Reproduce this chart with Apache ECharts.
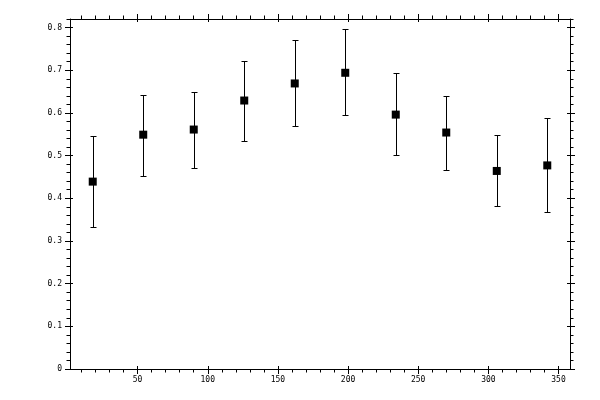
<!DOCTYPE html>
<html>
<head>
<meta charset="utf-8">
<script src="https://cdn.jsdelivr.net/npm/echarts@6/dist/echarts.min.js"></script>
<style>html,body{margin:0;padding:0;background:#fff}#c{width:600px;height:400px}</style>
</head>
<body>
<div id="c"></div>
<script>
// ---- data ----
var angles = [18, 54, 90, 126, 162, 198, 234, 270, 306, 342];
var means  = [0.439, 0.549, 0.561, 0.629, 0.669, 0.694, 0.596, 0.554, 0.464, 0.477];
var highs  = [0.547, 0.643, 0.650, 0.722, 0.770, 0.797, 0.693, 0.640, 0.549, 0.587];
var lows   = [0.333, 0.453, 0.472, 0.533, 0.570, 0.594, 0.502, 0.467, 0.382, 0.367];
var xTicks = [50, 100, 150, 200, 250, 300, 350];
var yTicks = [0, 0.1, 0.2, 0.3, 0.4, 0.5, 0.6, 0.7, 0.8];

var xMinor = []; for (var i = 10; i <= 350; i += 10) xMinor.push(i);
var yMinor = []; for (var j = 0; j <= 41; j++) yMinor.push(Math.round(j * 2) / 100);

var XMIN = 1.8, XMAX = 358.2, YMIN = 0, YMAX = 0.82;
var font = {fontFamily: 'DejaVu Sans Mono', fontSize: 8, color: '#000'};

function xAx(pos, ticks, len, inside, line, labels) {
  return {
    type: 'value', position: pos, min: XMIN, max: XMAX, scale: true,
    axisLine: {show: line, onZero: false, lineStyle: {color: '#000', width: 1}},
    axisTick: {show: true, inside: inside, length: len, customValues: ticks, lineStyle: {color: '#000', width: 1}},
    axisLabel: labels ? Object.assign({show: true, customValues: xTicks, margin: 7}, font) : {show: false},
    splitLine: {show: false}
  };
}
function yAx(pos, ticks, len, inside, line, labels) {
  return {
    type: 'value', position: pos, min: YMIN, max: YMAX,
    axisLine: {show: line, onZero: false, lineStyle: {color: '#000', width: 1}},
    axisTick: {show: true, inside: inside, length: len, customValues: ticks, lineStyle: {color: '#000', width: 1}},
    axisLabel: labels ? Object.assign({show: true, customValues: yTicks, margin: 8,
      formatter: function (v) { return String(Math.round(v * 10) / 10); }}, font) : {show: false},
    splitLine: {show: false}
  };
}

var errData = angles.map(function (a, k) { return [a, lows[k], highs[k]]; });
var ptData = angles.map(function (a, k) { return [a, means[k]]; });

var chart = echarts.init(document.getElementById('c'), null, {renderer: 'canvas'});
chart.setOption({
  animation: false,
  backgroundColor: '#fff',
  grid: {left: 70, right: 30, top: 19, bottom: 31, containLabel: false},
  xAxis: [
    xAx('bottom', xTicks, 5, false, true, true),
    xAx('bottom', xMinor, 3.5, false, false, false),
    xAx('bottom', xTicks, 3, true, false, false),
    xAx('top', xTicks, 5, false, true, false),
    xAx('top', xMinor, 3.5, false, false, false),
    xAx('top', xTicks, 3, true, false, false)
  ],
  yAxis: [
    yAx('left', yTicks, 5, false, true, true),
    yAx('left', yMinor, 3.5, false, false, false),
    yAx('left', yTicks, 3, true, false, false),
    yAx('right', yTicks, 5, false, true, false),
    yAx('right', yMinor, 3.5, false, false, false),
    yAx('right', yTicks, 3, true, false, false)
  ],
  series: [
    {
      type: 'custom', xAxisIndex: 0, yAxisIndex: 0, data: errData,
      renderItem: function (params, api) {
        var x = api.value(0);
        var pLo = api.coord([x, api.value(1)]);
        var pHi = api.coord([x, api.value(2)]);
        var cx = Math.round(pLo[0]) + 0.5;
        var yl = Math.round(pLo[1]) + 0.5, yh = Math.round(pHi[1]) + 0.5;
        var st = {stroke: '#000', lineWidth: 1};
        return {type: 'group', children: [
          {type: 'line', shape: {x1: cx, y1: yh, x2: cx, y2: yl}, style: st},
          {type: 'line', shape: {x1: cx - 3, y1: yh, x2: cx + 3, y2: yh}, style: st},
          {type: 'line', shape: {x1: cx - 3, y1: yl, x2: cx + 3, y2: yl}, style: st}
        ]};
      },
      z: 2
    },
    {
      type: 'scatter', xAxisIndex: 0, yAxisIndex: 0, data: ptData,
      symbol: 'rect', symbolSize: 8,
      itemStyle: {color: '#000', opacity: 1}, z: 3
    }
  ]
});
</script>
</body>
</html>
